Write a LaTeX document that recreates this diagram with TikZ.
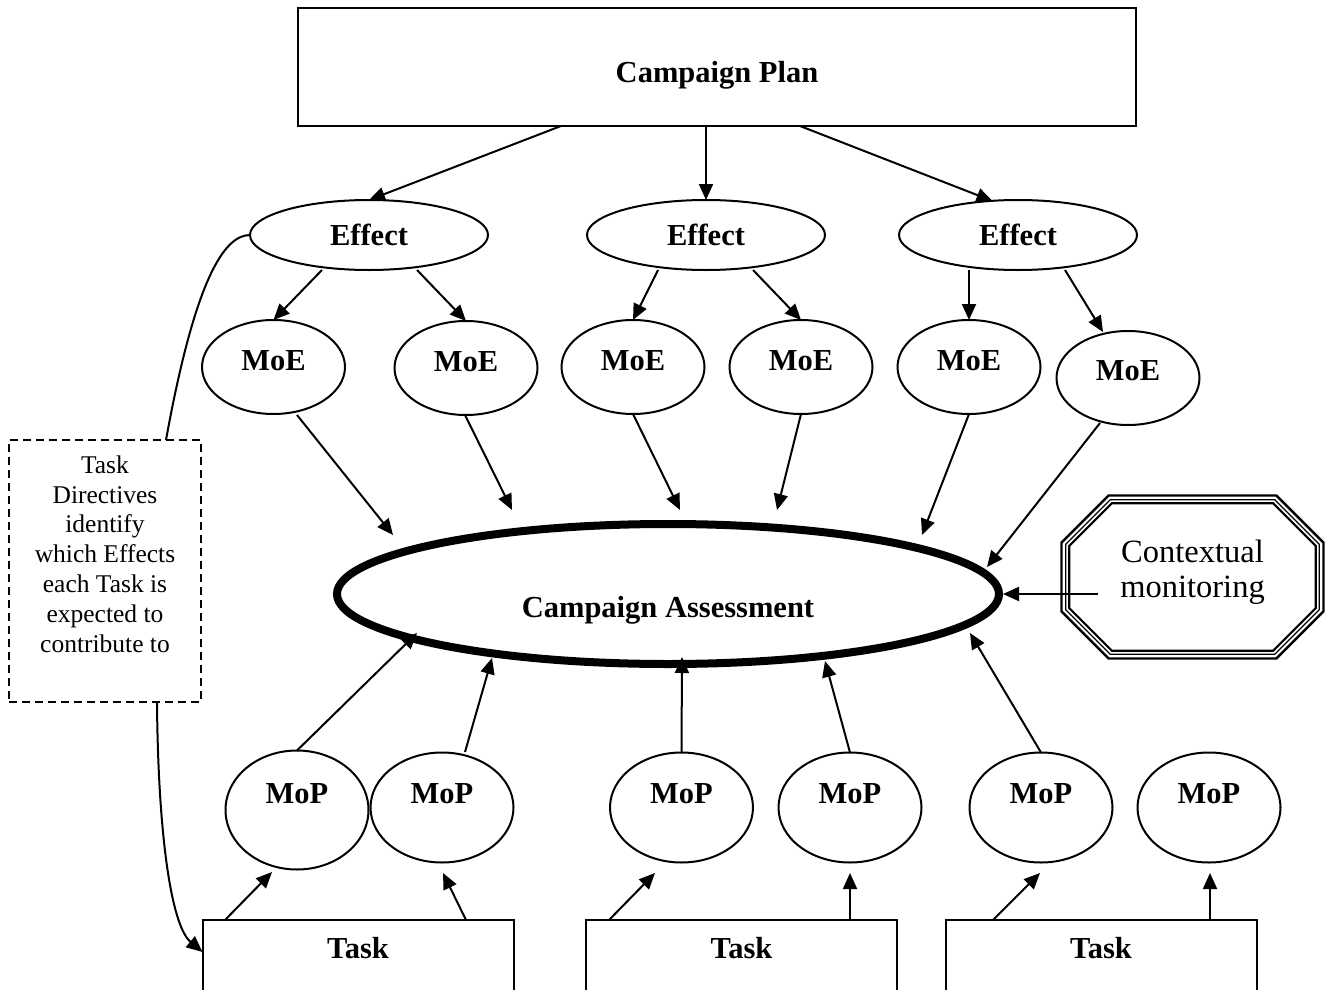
\documentclass[tikz,border=0pt]{standalone}
\usepackage{fontspec}
\setmainfont{Liberation Serif}
\usetikzlibrary{arrows.meta,calc,shapes.geometric}
\begin{document}
\begin{tikzpicture}[x=1pt,y=-1pt,
  every node/.style={inner sep=0pt, outer sep=0pt},
  lw/.style={line width=2pt},
  bold/.style={font=\fontsize{30.5}{36}\selectfont\bfseries},
  planbox/.style={draw, lw, bold, rectangle, minimum width=838pt, minimum height=118pt, text height=30pt, text depth=0pt},
  effect/.style={draw, lw, bold, ellipse, minimum width=238pt, minimum height=70pt, text height=20pt, text depth=0pt},
  moe/.style={draw, lw, bold, ellipse, minimum width=143pt, minimum height=94pt, text height=6pt, text depth=0pt},
  mop/.style={draw, lw, bold, ellipse, minimum width=143pt, minimum height=110pt, text height=0pt, text depth=9pt},
  assess/.style={draw, line width=8pt, bold, ellipse, minimum width=662pt, minimum height=140pt, text height=46pt, text depth=0pt},
  taskbox/.style={draw, lw, bold, rectangle, anchor=north, minimum width=311pt, text height=38pt, text depth=62pt},
  frame/.style={draw=none, rectangle},
  dirbox/.style={draw, lw, dash pattern=on 8pt off 5pt, rectangle, minimum width=192pt, minimum height=262pt},
  arr/.style={lw, -{Triangle[length=16pt,width=14pt]}},
  conn/.style={lw},
]
\useasboundingbox (0,0) rectangle (1328,990);
\clip (0,0) rectangle (1328,990);

% nodes
\node[planbox] (plan) at (717,67) {Campaign Plan};
\node[effect] (e1) at (369,235) {Effect};
\node[effect] (e2) at (706,235) {Effect};
\node[effect] (e3) at (1018,235) {Effect};

\node[moe] (m1) at (273.5,367) {MoE};
\node[moe] (m2) at (466,368) {MoE};
\node[moe] (m3) at (633,367) {MoE};
\node[moe] (m4) at (801,367) {MoE};
\node[moe] (m5) at (969,367) {MoE};
\node[moe, text height=4pt] (m6) at (1128,378) {MoE};

\node[assess] (ca) at (668,594) {Campaign Assessment};

\node[frame, minimum width=265pt, minimum height=166pt] (ctx) at (1192.5,577) {};
\node[font=\fontsize{32.5}{35}\selectfont, align=center] (ctxtxt) at (1192.5,572) {Contextual\\monitoring};
\foreach \dd/\ww in {1.5/2.4,5.7/1.2,9.3/2.2}{
  \pgfmathsetmacro\cc{48+0.414*\dd}
  \draw[line width=\ww pt]
    ($(ctx.north west)+(\dd,\cc)$) -- ($(ctx.north west)+(\cc,\dd)$) --
    ($(ctx.north east)+(-\cc,\dd)$) -- ($(ctx.north east)+(-\dd,\cc)$) --
    ($(ctx.south east)+(-\dd,-\cc)$) -- ($(ctx.south east)+(-\cc,-\dd)$) --
    ($(ctx.south west)+(\cc,-\dd)$) -- ($(ctx.south west)+(\dd,-\cc)$) -- cycle;
}

\node[dirbox] (dir) at (105,571) {};
\node[font=\fontsize{25.5}{29.8}\selectfont, align=center] (dirtxt) at (105,554)
  {Task\\Directives\\identify\\which Effects\\each Task is\\expected to\\contribute to};

\node[mop, minimum height=119pt, text depth=14pt] (p1) at (297,810) {MoP};
\node[mop] (p2) at (442,807.5) {MoP};
\node[mop] (p3) at (681.5,807.5) {MoP};
\node[mop] (p4) at (850,807.5) {MoP};
\node[mop] (p5) at (1041,807.5) {MoP};
\node[mop] (p6) at (1209,807.5) {MoP};

\node[taskbox] (t1) at (358,920) {Task};
\node[taskbox] (t2) at (741.5,920) {Task};
\node[taskbox] (t3) at (1101,920) {Task};

% plan -> effects
\draw[arr] ($(plan.south)+(-156,0)$) -- (e1.north);
\draw[arr] ($(plan.south)+(-11,0)$) -- (e2.north);
\draw[arr] ($(plan.south)+(83,0)$) -- ($(e3)+(-25.5,-34)$);

% effects -> MoE
\draw[arr] ($(e1)+(-47,35)$) -- (m1.north);
\draw[arr] ($(e1)+(48,35)$) -- (m2.north);
\draw[arr] ($(e2)+(-48,35)$) -- (m3.north);
\draw[arr] ($(e2)+(47,35)$) -- (m4.north);
\draw[arr] ($(e3)+(-49,35)$) -- (m5.north);
\draw[arr] ($(e3)+(47,35)$) -- ($(m6)+(-25,-46)$);

% MoE -> assessment
\draw[arr] ($(m1)+(23.5,48)$) -- ($(ca)+(-275,-59)$);
\draw[arr] ($(m2)+(-1,47)$) -- ($(ca)+(-156,-84)$);
\draw[arr] (m3.south) -- ($(ca)+(12,-84)$);
\draw[arr] (m4.south) -- ($(ca)+(109,-84)$);
\draw[arr] (m5.south) -- ($(ca)+(254,-59)$);
\draw[arr] ($(m6)+(-28,45)$) -- ($(ca)+(319,-27)$);

% contextual -> assessment
\draw[arr] ($(ctx.west)+(38,17)$) -- ($(ca.east)+(4,0)$);

% MoP -> assessment
\draw[arr] (p1.north) -- ($(ca)+(-251,39)$);
\draw[arr] ($(p2)+(23,-55.5)$) -- ($(ca)+(-176,64)$);
\draw[arr] (p3.north) -- ($(ca)+(14,63)$);
\draw[arr] (p4.north) -- ($(ca)+(157,67)$);
\draw[arr] (p5.north) -- ($(ca)+(302,39)$);

% Task -> MoP
\draw[arr] ($(t1.north)+(-133,0)$) -- ($(p1)+(-25,62)$);
\draw[arr] ($(t1.north)+(108,0)$) -- ($(p2)+(1,65.5)$);
\draw[arr] ($(t2.north)+(-132.5,0)$) -- ($(p3)+(-26.5,65.5)$);
\draw[arr] ($(t2.north)+(108.5,0)$) -- ($(p4)+(0,65.5)$);
\draw[arr] ($(t3.north)+(-108,0)$) -- ($(p5)+(-1,65.5)$);
\draw[arr] ($(t3.north)+(109,0)$) -- ($(p6)+(1,65.5)$);

% directive curves
\draw[conn] (e1.west) .. controls ($(e1.west)+(-26,0)$) and ($(dir.north)+(90,-160)$) .. ($(dir.north)+(61,0)$);
\draw[arr] ($(dir.south)+(52,0)$) .. controls ($(dir.south)+(53,128)$) and ($(t1.north west)+(-32,5)$) .. ($(t1.north west)+(0,32)$);
\end{tikzpicture}
\end{document}
